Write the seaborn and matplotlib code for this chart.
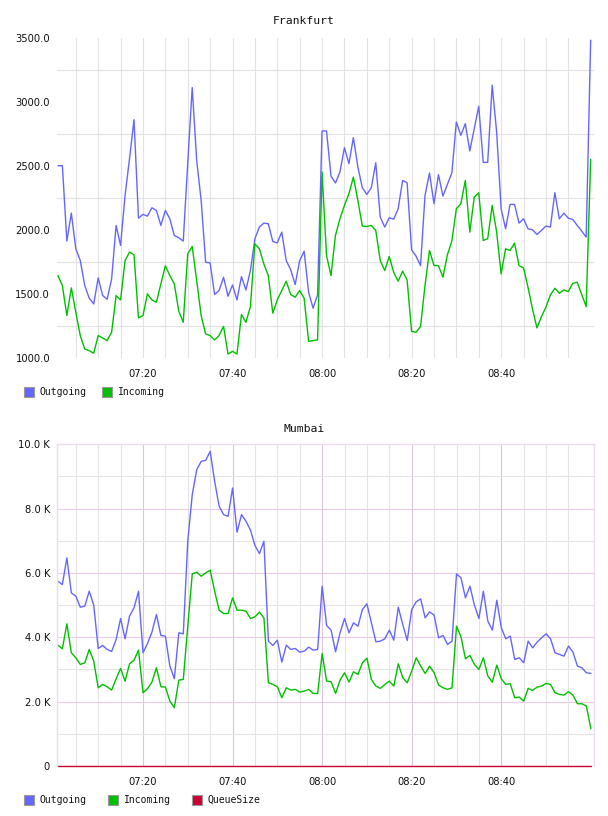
import numpy as np
import pandas as pd
import matplotlib
matplotlib.use("Agg")
import matplotlib.pyplot as plt
import matplotlib.dates as mdates
from matplotlib.ticker import FixedLocator, FuncFormatter, NullFormatter
from matplotlib.patches import Rectangle
import seaborn as sns

# ---------------- data ----------------
times = pd.date_range("2024-01-01 07:01", periods=120, freq="min")

fra_out = [2500, 2500, 1912, 2130, 1852, 1760, 1565, 1466, 1422, 1625,
           1487, 1458, 1617, 2034, 1878, 2268, 2555, 2859, 2091, 2120,
           2107, 2172, 2151, 2034, 2151, 2086, 1956, 1938, 1912, 2520,
           3109, 2542, 2229, 1747, 1742, 1495, 1526, 1630, 1482, 1570,
           1453, 1635, 1531, 1682, 1930, 2021, 2052, 2047, 1909, 1898,
           1982, 1760, 1688, 1573, 1760, 1833, 1513, 1388, 1492, 2771,
           2771, 2419, 2365, 2451, 2641, 2516, 2719, 2490, 2328, 2276,
           2328, 2523, 2099, 2021, 2094, 2083, 2164, 2385, 2367, 1844,
           1794, 1721, 2268, 2443, 2203, 2430, 2263, 2354, 2445, 2841,
           2737, 2828, 2615, 2789, 2964, 2526, 2526, 3128, 2763, 2164,
           2008, 2198, 2198, 2052, 2086, 2008, 2000, 1964, 1995, 2029,
           2021, 2289, 2086, 2130, 2091, 2081, 2034, 1990, 1943, 3479]

fra_in = [1643, 1565, 1331, 1547, 1357, 1175, 1070, 1057, 1037, 1175,
          1156, 1136, 1201, 1487, 1453, 1760, 1826, 1805, 1313, 1331,
          1500, 1453, 1435, 1578, 1719, 1643, 1578, 1365, 1279, 1813,
          1870, 1604, 1331, 1188, 1175, 1141, 1175, 1247, 1031, 1052,
          1031, 1339, 1279, 1401, 1891, 1852, 1734, 1643, 1349, 1453,
          1526, 1599, 1495, 1474, 1526, 1466, 1130, 1136, 1141, 2451,
          1800, 1643, 1956, 2086, 2190, 2281, 2411, 2229, 2029, 2026,
          2034, 1995, 1760, 1682, 1792, 1669, 1599, 1677, 1609, 1208,
          1201, 1245, 1565, 1839, 1721, 1721, 1630, 1805, 1914, 2164,
          2203, 2385, 1982, 2255, 2289, 1917, 1930, 2190, 1982, 1656,
          1852, 1839, 1896, 1721, 1703, 1552, 1383, 1235, 1323, 1396,
          1492, 1544, 1505, 1531, 1518, 1583, 1591, 1495, 1401, 2550]

mum_out = [5744, 5641, 6469, 5382, 5279, 4937, 4968, 5434, 5000, 3654,
           3747, 3623, 3560, 3933, 4585, 3954, 4658, 4916, 5434, 3519,
           3809, 4161, 4709, 4057, 4037, 3105, 2712, 4140, 4109, 7000,
           8435, 9212, 9470, 9501, 9781, 8849, 8073, 7814, 7763, 8642,
           7266, 7814, 7607, 7328, 6852, 6603, 6986, 3881, 3747, 3912,
           3229, 3757, 3623, 3654, 3540, 3571, 3695, 3602, 3623, 5589,
           4368, 4223, 3550, 4140, 4585, 4140, 4451, 4347, 4865, 5040,
           4451, 3861, 3881, 3954, 4223, 3912, 4937, 4399, 3902, 4865,
           5103, 5196, 4606, 4792, 4689, 3985, 4057, 3778, 3881, 5972,
           5848, 5227, 5589, 5000, 4585, 5434, 4502, 4223, 5154, 4295,
           3954, 4037, 3312, 3364, 3209, 3881, 3674, 3850, 3985, 4109,
           3954, 3519, 3467, 3416, 3726, 3540, 3105, 3053, 2898, 2877]

mum_in = [3757, 3643, 4419, 3519, 3364, 3157, 3209, 3623, 3260, 2432,
          2536, 2463, 2360, 2712, 3033, 2639, 3177, 3291, 3602, 2277,
          2401, 2608, 3053, 2463, 2453, 2018, 1811, 2670, 2691, 4347,
          5972, 6024, 5900, 6003, 6086, 5434, 4844, 4740, 4740, 5227,
          4844, 4844, 4813, 4585, 4637, 4782, 4606, 2588, 2536, 2463,
          2122, 2432, 2360, 2381, 2298, 2329, 2381, 2256, 2256, 3498,
          2639, 2619, 2256, 2670, 2898, 2608, 2929, 2846, 3209, 3353,
          2691, 2484, 2412, 2536, 2639, 2484, 3177, 2743, 2588, 2950,
          3364, 3105, 2877, 3105, 2898, 2515, 2432, 2381, 2432, 4347,
          4016, 3333, 3436, 3157, 3002, 3364, 2795, 2608, 3136, 2712,
          2536, 2557, 2122, 2143, 2018, 2412, 2349, 2453, 2484, 2567,
          2536, 2277, 2225, 2205, 2308, 2205, 1935, 1935, 1863, 1159]

mum_queue = [0] * 120

fra_series = ["Outgoing", "Incoming"]
mum_series = ["Outgoing", "Incoming", "QueueSize"]
fra_yticks = [1000, 1500, 2000, 2500, 3000, 3500]
mum_yticks = [0, 2000, 4000, 6000, 8000, 10000]
x_ticklabels = ["07:20", "07:40", "08:00", "08:20", "08:40"]
titles = ["Frankfurt", "Mumbai"]

colors = {"Outgoing": "#6666ff", "Incoming": "#00c000", "QueueSize": "#cc0033"}

# ---------------- figure ----------------
sns.set_theme(style="white")
plt.rcParams["font.family"] = ["DejaVu Sans"]

W, H = 608, 816
fig = plt.figure(figsize=(W / 100, H / 100), dpi=100)
fig.patch.set_facecolor("white")


def px_axes(x0, y0, x1, y1):
    return fig.add_axes([x0 / W, 1 - y1 / H, (x1 - x0) / W, (y1 - y0) / H])


ax1 = px_axes(57, 37.5, 593.5, 358)
ax2 = px_axes(57, 444.3, 593.7, 766)

df_f = pd.DataFrame({
    "time": np.concatenate([times, times]),
    "value": fra_out + fra_in,
    "series": [fra_series[0]] * len(fra_out) + [fra_series[1]] * len(fra_in),
})
df_m = pd.DataFrame({
    "time": np.concatenate([times, times, times]),
    "value": mum_out + mum_in + mum_queue,
    "series": [mum_series[0]] * len(mum_out) + [mum_series[1]] * len(mum_in)
              + [mum_series[2]] * len(mum_queue),
})

sns.lineplot(data=df_f, x="time", y="value", hue="series", hue_order=fra_series,
             palette=colors, ax=ax1, legend=False, linewidth=1.0)
sns.lineplot(data=df_m, x="time", y="value", hue="series", hue_order=mum_series,
             palette=colors, ax=ax2, legend=False, linewidth=1.0)
for ln in ax2.lines:
    ln.set_clip_on(False)

xmin = pd.Timestamp("2024-01-01 07:00:48")
xmax = pd.Timestamp("2024-01-01 09:00:38")
major_times = [pd.Timestamp("2024-01-01 " + t) for t in x_ticklabels]
minor_times = [t for t in pd.date_range("2024-01-01 07:05", "2024-01-01 08:55",
                                        freq="5min")]

for ax in (ax1, ax2):
    ax.set_xlim(xmin, xmax)
    ax.set_xlabel("")
    ax.set_ylabel("")
    ax.set_facecolor("white")
    ax.xaxis.set_major_locator(FixedLocator(mdates.date2num(major_times)))
    ax.xaxis.set_major_formatter(mdates.DateFormatter("%H:%M"))
    ax.xaxis.set_minor_locator(FixedLocator(mdates.date2num(minor_times)))
    ax.xaxis.set_minor_formatter(NullFormatter())
    ax.tick_params(axis="both", which="both", length=0, labelsize=7.2,
                   labelcolor="#111111")
    ax.tick_params(axis="x", which="major", pad=8)
    ax.tick_params(axis="y", which="major", pad=5)
    ax.set_axisbelow(True)

# Frankfurt
ax1.set_ylim(1000, 3500)
ax1.yaxis.set_major_locator(FixedLocator(fra_yticks))
ax1.yaxis.set_major_formatter(FuncFormatter(lambda v, p: f"{v:.1f}"))
ax1.yaxis.set_minor_locator(FixedLocator([1250, 1750, 2250, 2750, 3250]))
ax1.grid(False)
ax1.grid(True, which="both", axis="x", color="#e2e2e2", lw=0.8)
ax1.grid(True, which="minor", axis="y", color="#e2e2e2", lw=0.8)
for s in ax1.spines.values():
    s.set_visible(False)

# Mumbai
ax2.set_ylim(0, 10000)
ax2.yaxis.set_major_locator(FixedLocator(mum_yticks))
ax2.yaxis.set_major_formatter(
    FuncFormatter(lambda v, p: "0" if v == 0 else f"{v / 1000:.1f} K"))
ax2.yaxis.set_minor_locator(FixedLocator([1000, 3000, 5000, 7000, 9000]))
ax2.grid(False)
ax2.grid(True, which="minor", axis="both", color="#e4e4e4", lw=0.8)
ax2.grid(True, which="major", axis="y", color="#e8cce8", lw=0.8)
ax2.grid(True, which="major", axis="x", color="#dcc4dc", lw=0.8)
for side, s in ax2.spines.items():
    if side == "bottom":
        s.set_visible(False)
    else:
        s.set_visible(True)
        s.set_color("#eedcee")
        s.set_linewidth(1.0)

# titles
fig.text(0.5, 1 - 20.5 / H, titles[0], ha="center", va="center",
         family="DejaVu Sans Mono", fontsize=8.2, color="#111111")
fig.text(0.5, 1 - 429 / H, titles[1], ha="center", va="center",
         family="DejaVu Sans Mono", fontsize=8.2, color="#111111")


# legends
def legend(yc, items):
    for name, xs, xt in items:
        fig.add_artist(Rectangle((xs / W, 1 - (yc + 5) / H), 10 / W, 10 / H,
                                 transform=fig.transFigure, facecolor=colors[name],
                                 edgecolor="#999999", lw=0.8))
        fig.text(xt / W, 1 - yc / H, name, ha="left", va="center",
                 family="DejaVu Sans Mono", fontsize=7, color="#111111")


legend(392, [(fra_series[0], 24.3, 39), (fra_series[1], 102.3, 118)])
legend(800, [(mum_series[0], 24.3, 39), (mum_series[1], 108.3, 124),
             (mum_series[2], 192.3, 207)])

fig.savefig("out.png", dpi=100, facecolor="white")
